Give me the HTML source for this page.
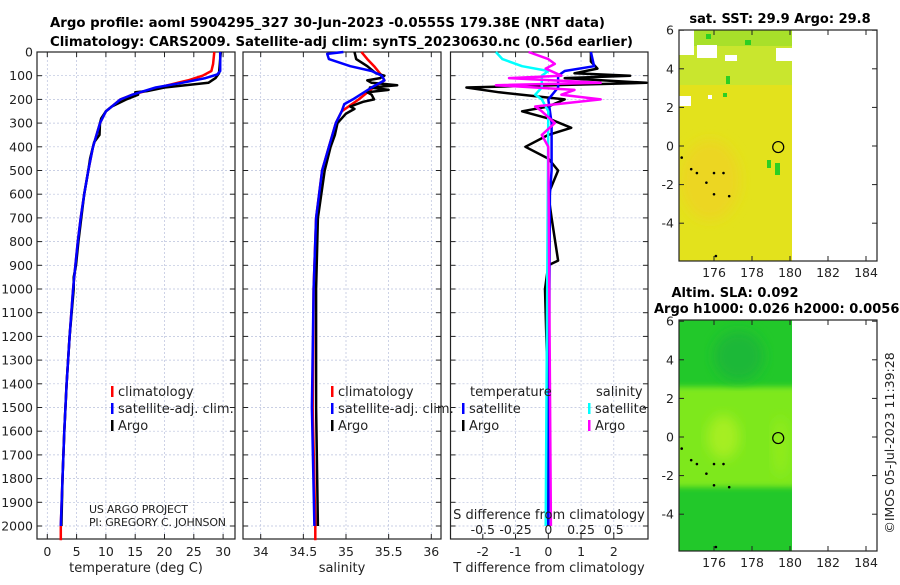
<!DOCTYPE html>
<html><head><meta charset="utf-8"><style>
body{margin:0;background:#fff;}
svg text{font-family:"DejaVu Sans","Liberation Sans",sans-serif;fill:#222;}
.t{font-weight:bold;font-size:13px;fill:#000;}
.tk{font-size:12.5px;}
.lg{font-size:13px;}
</style></head><body>
<svg id="fig" width="900" height="580" viewBox="0 0 900 580" xmlns="http://www.w3.org/2000/svg">
<defs><filter id="bl" x="-20%" y="-20%" width="140%" height="140%"><feGaussianBlur stdDeviation="6"/></filter>
<filter id="bl2" x="-20%" y="-20%" width="140%" height="140%"><feGaussianBlur stdDeviation="3"/></filter>
<clipPath id="c1"><rect x="679" y="30" width="113" height="231"/></clipPath>
<clipPath id="c2"><rect x="679" y="320" width="113" height="231"/></clipPath></defs>
<text class="t" x="50" y="27" textLength="555" lengthAdjust="spacingAndGlyphs">Argo profile: aoml 5904295_327 30-Jun-2023 -0.0555S 179.38E (NRT data)</text>
<text class="t" x="50" y="46" textLength="583" lengthAdjust="spacingAndGlyphs">Climatology: CARS2009. Satellite-adj clim: synTS_20230630.nc (0.56d earlier)</text>
<g id="plots"></g>
</svg>
<script>
// ---- data (depth in m) ----
const tClimDepth=[0,50,80,100,120,150,180,200,250,300,400,500,600,700,800,900,1000,1200,1400,1600,1800,2000,2060];
const tClimVal=[28.5,28.3,28,26.5,24,19,14.5,12.5,10,9,7.8,7,6.3,5.7,5.2,4.8,4.4,3.8,3.3,2.9,2.6,2.3,2.3];
const tSatDepth=[0,80,95,110,130,150,180,200,250,300,400,500,600,700,800,900,1000,1200,1400,1600,1800,2000];
const tSatVal=[29.5,29.5,29,27,23,18.5,14.5,12.5,10,9,7.8,7,6.3,5.7,5.2,4.8,4.4,3.8,3.3,2.9,2.6,2.3];
const tArgoDepth=[0,90,110,130,150,165,170,180,200,230,250,280,300,350,380,400,450,500,600,700,800,900,950,1000,1200,1400,1600,1800,2000];
const tArgoVal=[29.6,29.3,28.7,27.5,20,17,15,15.5,13.5,11,10,9.2,9,8.9,8,7.8,7.3,7,6.3,5.8,5.3,4.9,4.5,4.5,3.8,3.3,2.9,2.6,2.4];
const sClimDepth=[0,30,60,100,120,150,200,250,300,400,500,700,1000,1500,2000,2060];
const sClimVal=[35.18,35.25,35.33,35.42,35.45,35.32,35.15,34.95,34.88,34.8,34.72,34.65,34.62,34.61,34.64,34.64];
const sSatDepth=[0,8,30,60,80,100,120,150,200,220,250,300,400,500,700,1000,1500,2000];
const sSatVal=[34.97,34.78,34.8,35.05,35.3,35.42,35.45,35.3,35.08,34.98,34.95,34.88,34.8,34.72,34.65,34.62,34.6,34.63];
const sArgoDepth=[0,30,60,90,100,110,120,130,140,150,160,170,180,200,210,230,240,260,300,350,400,500,700,1000,1500,2000];
const sArgoVal=[35.1,35.12,35.25,35.35,35.45,35.4,35.25,35.3,35.6,35.28,35.5,35.25,35.3,35.33,35.2,35.05,35.1,35.0,34.9,34.87,34.82,34.75,34.67,34.65,34.65,34.67];
const dTSatDepth=[0,60,80,100,150,200,300,400,500,600,2000];
const dTSatVal=[1.3,1.4,0.5,0.3,0.3,0,0.1,0.1,0.1,0.05,0];
const dTArgoDepth=[0,40,70,90,100,110,130,150,170,200,230,250,280,320,350,400,450,500,600,700,880,900,1000,1500,2000];
const dTArgoVal=[1.3,1.3,1.5,0.8,2.5,0.5,3,-2.5,-1.5,0.5,0,-0.8,0,0.7,0,-0.7,0,0.3,0,0.1,0.3,0,-0.1,0,0];
const dSSatDepth=[0,30,60,80,100,150,180,200,250,2000];
const dSSatVal=[-0.4,-0.35,-0.2,0,-0.05,-0.05,-0.1,-0.05,0,-0.02];
const dSArgoDepth=[0,30,50,70,100,110,130,140,160,180,200,230,250,300,350,400,2000];
const dSArgoVal=[-0.15,0,0.05,-0.02,0.1,-0.3,0.4,-0.4,0.2,0.1,0.4,-0.1,-0.05,0.05,-0.05,0,0.02];
const depthTicks=[0,100,200,300,400,500,600,700,800,900,1000,1100,1200,1300,1400,1500,1600,1700,1800,1900,2000];
const tTicks=[0,5,10,15,20,25,30];
const sTicks=[34,34.5,35,35.5,36];
const dTTicks=[-2,-1,0,1,2];
const dSTickValues=[-0.5,-0.25,0,0.25,0.5];
const dSTickLabels=['-0.5','-0.25','0','0.25','0.5'];
const latTicks=[6,4,2,0,-2,-4];
const lonTicks=[176,178,180,182,184];
const argoLon=179.38, argoLat=-0.0555;
const coastLon=[174.3,174.8,175.1,175.6,176,176.5,176,176.8,176.1];
const coastLat=[-0.6,-1.2,-1.4,-1.9,-1.4,-1.4,-2.5,-2.6,-5.7];

const NS='http://www.w3.org/2000/svg';
const G=document.getElementById('plots');
function mk(tag,at,parent){const e=document.createElementNS(NS,tag);for(const k in at)e.setAttribute(k,at[k]);(parent||G).appendChild(e);return e;}
const Y0=52,YK=0.237,PB=539;
const yD=d=>Y0+d*YK;
const panels=[
 {x0:37,x1:235,xs:v=>47.3+v*5.86,ticks:tTicks,name:'temperature'},
 {x0:243,x1:441,xs:v=>260.7+(v-34)*85.3,ticks:sTicks,name:'salinity'},
 {x0:450.5,x1:648,xs:v=>548.3+v*32.75,ticks:dTTicks,name:'difference'}];
const xsS=v=>548.3+v*131;
panels.forEach((p,i)=>{
 const g=mk('g',{});
 
 
 depthTicks.forEach(d=>{const l=mk('line',{x1:p.x0,x2:p.x1,y1:yD(d),y2:yD(d),stroke:'#b8c0dc','stroke-width':0.7,'stroke-dasharray':'2,2'},g);
  
  mk('line',{x1:p.x0,x2:p.x0+5,y1:yD(d),y2:yD(d),stroke:'#222'},g);mk('line',{x1:p.x1-5,x2:p.x1,y1:yD(d),y2:yD(d),stroke:'#222'},g);
  if(i==0){const t=mk('text',{x:p.x0-4,y:yD(d)+4.5,'text-anchor':'end',class:'tk'},g);t.textContent=d;
   }});
 p.ticks.forEach(v=>{const x=p.xs(v);
  const l=mk('line',{x1:x,x2:x,y1:Y0,y2:PB,stroke:'#b8c0dc','stroke-width':0.7,'stroke-dasharray':'2,2'},g);
  
  mk('line',{x1:x,x2:x,y1:PB-5,y2:PB,stroke:'#222'},g);mk('line',{x1:x,x2:x,y1:Y0,y2:Y0+5,stroke:'#222'},g);
  const t=mk('text',{x:x,y:556,'text-anchor':'middle',class:'tk'},g);t.textContent=v;
  });
 const r=mk('rect',{x:p.x0,y:Y0,width:p.x1-p.x0,height:PB-Y0,fill:'none',stroke:'#222','stroke-width':1.2},g);
 
});
function line(dep,val,xs,col,w,name){
 const d=dep.map((z,i)=>(i?'L':'M')+xs(val[i]).toFixed(1)+','+yD(z).toFixed(1)).join('');
 const p=mk('path',{d:d,fill:'none',stroke:col,'stroke-width':w,'stroke-linejoin':'round'});
 
 
}
const P=panels;
line(tClimDepth,tClimVal,P[0].xs,'#f00',2.5,'temp-climatology-line');
line(tArgoDepth,tArgoVal,P[0].xs,'#000',2.5,'temp-argo-line');
line(tSatDepth,tSatVal,P[0].xs,'#00f',2.5,'temp-satellite-line');
line(sClimDepth,sClimVal,P[1].xs,'#f00',2.5,'sal-climatology-line');
line(sArgoDepth,sArgoVal,P[1].xs,'#000',2.5,'sal-argo-line');
line(sSatDepth,sSatVal,P[1].xs,'#00f',2.5,'sal-satellite-line');
line(dTArgoDepth,dTArgoVal,P[2].xs,'#000',2.5,'dtemp-argo-line');
line(dTSatDepth,dTSatVal,P[2].xs,'#00f',2.5,'dtemp-satellite-line');
line(dSSatDepth,dSSatVal,xsS,'#0ff',2.5,'dsal-satellite-line');
line(dSArgoDepth,dSArgoVal,xsS,'#f0f',2.5,'dsal-argo-line');
function txt(x,y,s,cls,name,anchor){const t=mk('text',{x:x,y:y,class:cls,'text-anchor':anchor||'start'});t.textContent=s;
 return t;}
function leg(x,y,col,s,name){const m=mk('rect',{x:x,y:y-10,width:2.5,height:11,fill:col});
 txt(x+7,y,s,'lg',name);}
leg(111,396,'#f00','climatology','legend-climatology');
leg(111,413,'#00f','satellite-adj. clim.','legend-satellite-adj');
leg(111,430,'#000','Argo','legend-argo');
leg(331,396,'#f00','climatology','legend2-climatology');
leg(331,413,'#00f','satellite-adj. clim.','legend2-satellite-adj');
leg(331,430,'#000','Argo','legend2-argo');
txt(470,396,'temperature','lg','legend-temperature-header');
txt(596,396,'salinity','lg','legend-salinity-header');
leg(462,413,'#00f','satellite','legend-t-satellite');
leg(462,430,'#000','Argo','legend-t-argo');
leg(588,413,'#0ff','satellite','legend-s-satellite');
leg(588,430,'#f0f','Argo','legend-s-argo');
const c1=txt(89,513,'US ARGO PROJECT','tk','project-credit');c1.setAttribute('style','font-size:11px');c1.setAttribute('textLength','99');
const c2=txt(89,526,'PI: GREGORY C. JOHNSON','tk','pi-credit');c2.setAttribute('style','font-size:11px');c2.setAttribute('textLength','137');
txt(549,519,'S difference from climatology','lg','s-diff-axis-title','middle');
dSTickLabels.forEach((s,i)=>{txt(xsS(dSTickValues[i]),534,s,'tk','s-diff-tick-label','middle');});
txt(136,572,'temperature (deg C)','lg','temp-x-axis-title','middle');
txt(342,572,'salinity','lg','sal-x-axis-title','middle');
txt(549,572,'T difference from climatology','lg','tdiff-x-axis-title','middle');

// ---- maps ----
const mx=lon=>714+(lon-176)*19, myTop=lat=>146-lat*19.3, myBot=lat=>437-lat*19.3;
function map(top,bottom,my,clip,kind){
 const g=mk('g',{});
 
 
 const f=mk('g',{'clip-path':'url(#'+clip+')'},g);
 if(kind==='sst'){
  mk('rect',{x:679,y:top,width:113,height:231,fill:'#e3e21c'},f);
  mk('rect',{x:679,y:top,width:113,height:55,fill:'#c9e62e'},f);
  mk('rect',{x:679,y:top,width:113,height:16,fill:'#a8e02a'},f);
  mk('ellipse',{cx:710,cy:180,rx:30,ry:40,fill:'#ecd622',filter:'url(#bl)'},f);
  [[679,30,15,25],[697,45,20,13],[776,48,16,13],[725,55,12,6],[679,96,12,10],[708,95,4,4]].forEach(r=>mk('rect',{x:r[0],y:r[1],width:r[2],height:r[3],fill:'#fff'},f));
  [[726,76,4,8],[745,40,6,5],[775,163,5,12],[767,160,4,8],[706,34,5,5],[723,93,4,4]].forEach(r=>mk('rect',{x:r[0],y:r[1],width:r[2],height:r[3],fill:'#2ccf22'},f));
 } else {
  mk('rect',{x:679,y:top,width:113,height:231,fill:'#22c82a'},f);
  mk('rect',{x:670,y:my(2.6),width:130,height:my(-2.6)-my(2.6),fill:'#7ee81a',filter:'url(#bl2)'},f);
  mk('ellipse',{cx:mx(176.5),cy:my(0),rx:16,ry:22,fill:'#a6ee22',filter:'url(#bl)'},f);
  mk('ellipse',{cx:mx(177.3),cy:my(4.2),rx:25,ry:25,fill:'#1cb838',filter:'url(#bl)'},f);
  mk('ellipse',{cx:mx(179.5),cy:my(-0.5),rx:8,ry:30,fill:'#92ec1e',filter:'url(#bl)'},f);
 }
 mk('rect',{x:792,y:top,width:85,height:231,fill:'#fff'},g);
 coastLon.forEach((lo,i)=>{const c=mk('circle',{cx:mx(lo),cy:my(coastLat[i]),r:1.3,fill:'#000'},g);
  });
 const c=mk('circle',{cx:mx(argoLon),cy:my(argoLat),r:5.5,fill:'none',stroke:'#000','stroke-width':1.2},g);
 
 const fr=mk('rect',{x:679,y:top,width:198,height:231,fill:'none',stroke:'#222','stroke-width':1.2},g);
 
 latTicks.forEach(la=>{const y=my(la);mk('line',{x1:679,x2:684,y1:y,y2:y,stroke:'#222'},g);mk('line',{x1:872,x2:877,y1:y,y2:y,stroke:'#222'},g);
  const t=mk('text',{x:674,y:y+4.5,'text-anchor':'end',class:'tk'},g);t.textContent=la;
  });
 lonTicks.forEach(lo=>{const x=mx(lo);mk('line',{x1:x,x2:x,y1:bottom-5,y2:bottom,stroke:'#222'},g);mk('line',{x1:x,x2:x,y1:top,y2:top+5,stroke:'#222'},g);
  const t=mk('text',{x:x,y:bottom+16,'text-anchor':'middle',class:'tk'},g);t.textContent=lo;
  });
}
map(30,261,myTop,'c1','sst');
map(320,551,myBot,'c2','sla');
txt(780,23,'sat. SST: 29.9 Argo: 29.8','t','sst-map-title','middle');
txt(735,297,'Altim. SLA: 0.092','t','sla-map-title','middle');
txt(654,313,'Argo h1000: 0.026 h2000: 0.0056','t','sla-map-subtitle');
const d=txt(0,0,'©IMOS 05-Jul-2023 11:39:28','tk','timestamp','middle');
d.setAttribute('transform','translate(894,443) rotate(-90)');
</script>
</body></html>
